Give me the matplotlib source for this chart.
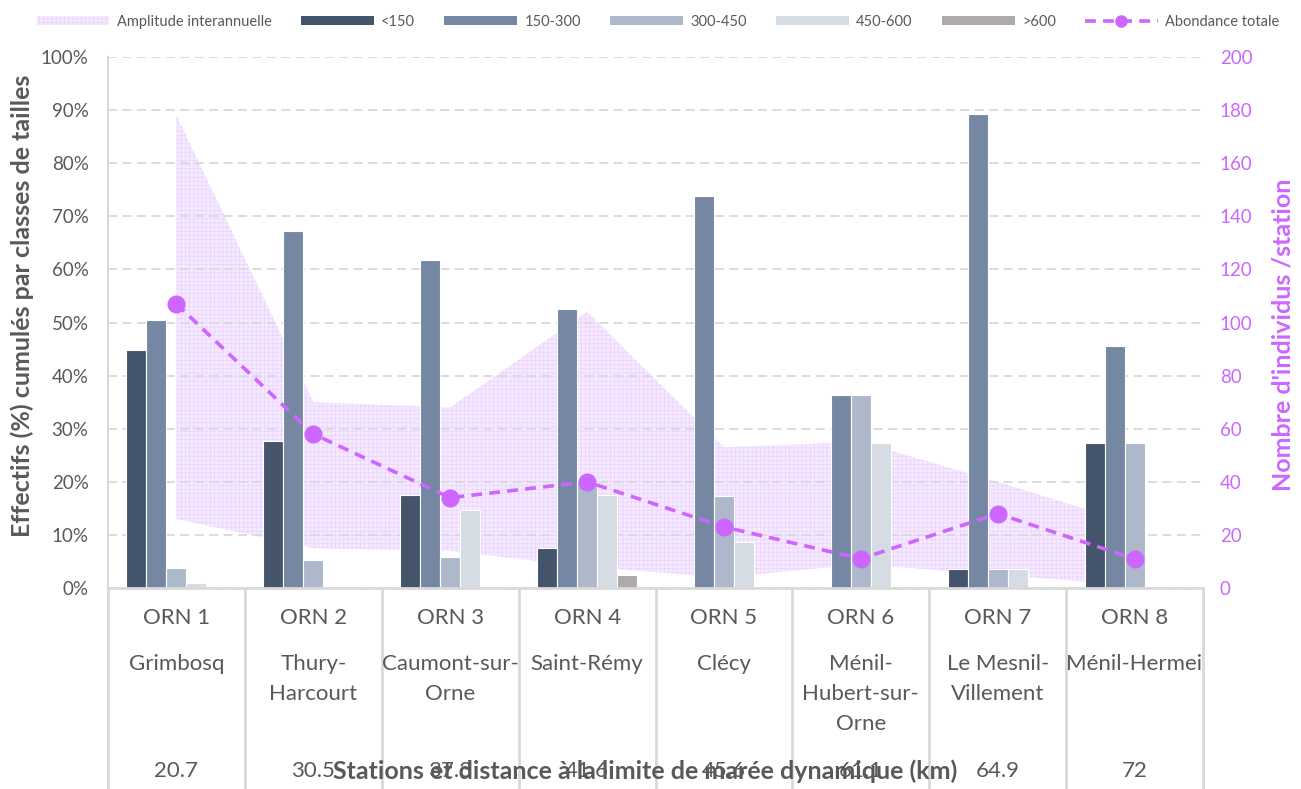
import numpy as np
import matplotlib
matplotlib.use('Agg')
import matplotlib.pyplot as plt
import matplotlib.transforms as mtransforms
from matplotlib.patches import Patch
from matplotlib.lines import Line2D

plt.rcParams['font.family'] = ['Lato', 'DejaVu Sans']
plt.rcParams['hatch.linewidth'] = 0.5

# ---- data ----
codes = ['ORN 1', 'ORN 2', 'ORN 3', 'ORN 4', 'ORN 5', 'ORN 6', 'ORN 7', 'ORN 8']
stations = ['Grimbosq', 'Thury-\nHarcourt', 'Caumont-sur-\nOrne', 'Saint-Rémy', 'Clécy',
            'Ménil-\nHubert-sur-\nOrne', 'Le Mesnil-\nVillement', 'Ménil-Hermei']
distances = ['20.7', '30.5', '37.3', '41.6', '45.6', '61.1', '64.9', '72']

classes = ['<150', '150-300', '300-450', '450-600', '>600']
pct_lt150 = [44.9, 27.6, 17.6, 7.5, 0, 0, 3.6, 27.3]
pct_150_300 = [50.5, 67.2, 61.8, 52.5, 73.9, 36.4, 89.3, 45.5]
pct_300_450 = [3.7, 5.2, 5.9, 20.0, 17.4, 36.4, 3.6, 27.3]
pct_450_600 = [0.9, 0, 14.7, 17.5, 8.7, 27.3, 3.6, 0]
pct_gt600 = [0, 0, 0, 2.5, 0, 0, 0, 0]

abondance = [107, 58, 34, 40, 23, 11, 28, 11]
amp_min = [26, 15, 14, 8, 4, 9, 5, 1]
amp_max = [178, 70, 68, 104, 53, 55, 40, 24]

bar_colors = ['#44546A', '#7587A3', '#ADB9CA', '#D6DCE4', '#AEAAAA']
purple = '#CC66FF'
grey_txt = '#595959'
grid_col = '#D9D9D9'

fig = plt.figure(figsize=(13.01, 7.89), dpi=100)
ax_area = fig.add_axes([108/1301, 1-588/789, 1095/1301, 531/789])
ax = ax_area.twinx()
ax_line = ax_area.twinx()
ax_area.set_zorder(0)
ax.set_zorder(1)
ax_line.set_zorder(2)
ax.patch.set_visible(False)
ax_line.patch.set_visible(False)

x = np.arange(len(codes))

# amplitude interannuelle (right scale)
ax_area.fill_between(x, amp_min, amp_max, facecolor='#F6EAFF', edgecolor='#EAD2FF',
                     hatch='++++', linewidth=0)
ax_area.set_ylim(0, 200)
ax_area.set_xlim(-0.5, len(codes) - 0.5)
ax_area.set_yticks([])
ax_area.set_xticks([])
for s in ax_area.spines.values():
    s.set_visible(False)

# bars (left scale)
series = [pct_lt150, pct_150_300, pct_300_450, pct_450_600, pct_gt600]
w = 0.146
for k, (vals, col) in enumerate(zip(series, bar_colors)):
    ax.bar(x + (k - 2) * w, vals, width=w, color=col, edgecolor='white', linewidth=0.8)

ax.set_xlim(-0.5, len(codes) - 0.5)
ax.set_ylim(0, 100)
ax.yaxis.tick_left()
ax.set_yticks(np.arange(0, 101, 10))
ax.set_yticklabels([f'{v}%' for v in range(0, 101, 10)])
ax.tick_params(axis='y', length=0, pad=14, labelsize=13.5, labelcolor=grey_txt)
ax.set_xticks([])
ax.grid(axis='y', color=grid_col, linestyle=(0, (5, 3)), linewidth=1.3)
ax.set_axisbelow(True)
for side in ['top', 'right']:
    ax.spines[side].set_visible(False)
ax.spines['left'].set_color(grid_col)
ax.spines['left'].set_linewidth(1.5)
ax.spines['bottom'].set_color(grid_col)
ax.spines['bottom'].set_linewidth(2)

# abondance totale
ax_line.plot(x, abondance, color=purple, linestyle=(0, (3, 2)), linewidth=2.6,
             marker='o', markersize=12)
ax_line.set_ylim(0, 200)
ax_line.set_xlim(-0.5, len(codes) - 0.5)
ax_line.set_yticks(np.arange(0, 201, 20))
ax_line.tick_params(axis='y', length=0, pad=12, labelsize=13.5, labelcolor=purple)
for s in ax_line.spines.values():
    s.set_visible(False)

# multi-level category labels
tr = mtransforms.blended_transform_factory(ax.transData, fig.transFigure)
for i in range(len(codes)):
    ax.text(i, 1-618/789, codes[i], transform=tr, ha='center', va='center',
            fontsize=16, color=grey_txt)
    ax.text(i, 1-654/789, stations[i], transform=tr, ha='center', va='top',
            fontsize=16, color=grey_txt, linespacing=1.62)
    ax.text(i, 1-771/789, distances[i], transform=tr, ha='center', va='center',
            fontsize=16, color=grey_txt)
for b in np.arange(-0.5, len(codes), 1.0):
    ax.plot([b, b], [1-588/789, 0], transform=tr, color=grid_col, linewidth=2,
            clip_on=False)

fig.text(645/1301, 1-771/789, 'Stations et distance à la limite de marée dynamique (km)',
         ha='center', va='center', fontsize=18, fontweight='bold', color=grey_txt)
fig.text(22/1301, 1-306/789, 'Effectifs (%) cumulés par classes de tailles', rotation=90,
         ha='center', va='center', fontsize=18, fontweight='bold', color=grey_txt)
fig.text(1283/1301, 1-335/789, "Nombre d'individus /station", rotation=90,
         ha='center', va='center', fontsize=18, fontweight='bold', color=purple)

# legend
handles = [Patch(facecolor='#F6EAFF', edgecolor='#EAD2FF', hatch='++++', linewidth=0)]
handles += [Patch(facecolor=c, edgecolor='none') for c in bar_colors]
handles += [Line2D([], [], color=purple, linestyle=(0, (3, 2)), linewidth=2.6,
                   marker='o', markersize=8)]
labels = ['Amplitude interannuelle'] + classes + ['Abondance totale']
fig.legend(handles, labels, ncol=7, loc='center', bbox_to_anchor=(658/1301, 1-22/789),
           frameon=False, fontsize=10.5, handlelength=5.0, handleheight=0.6,
           handletextpad=0.5, columnspacing=2.0, labelcolor=grey_txt)

fig.savefig('out.png', dpi=100)
